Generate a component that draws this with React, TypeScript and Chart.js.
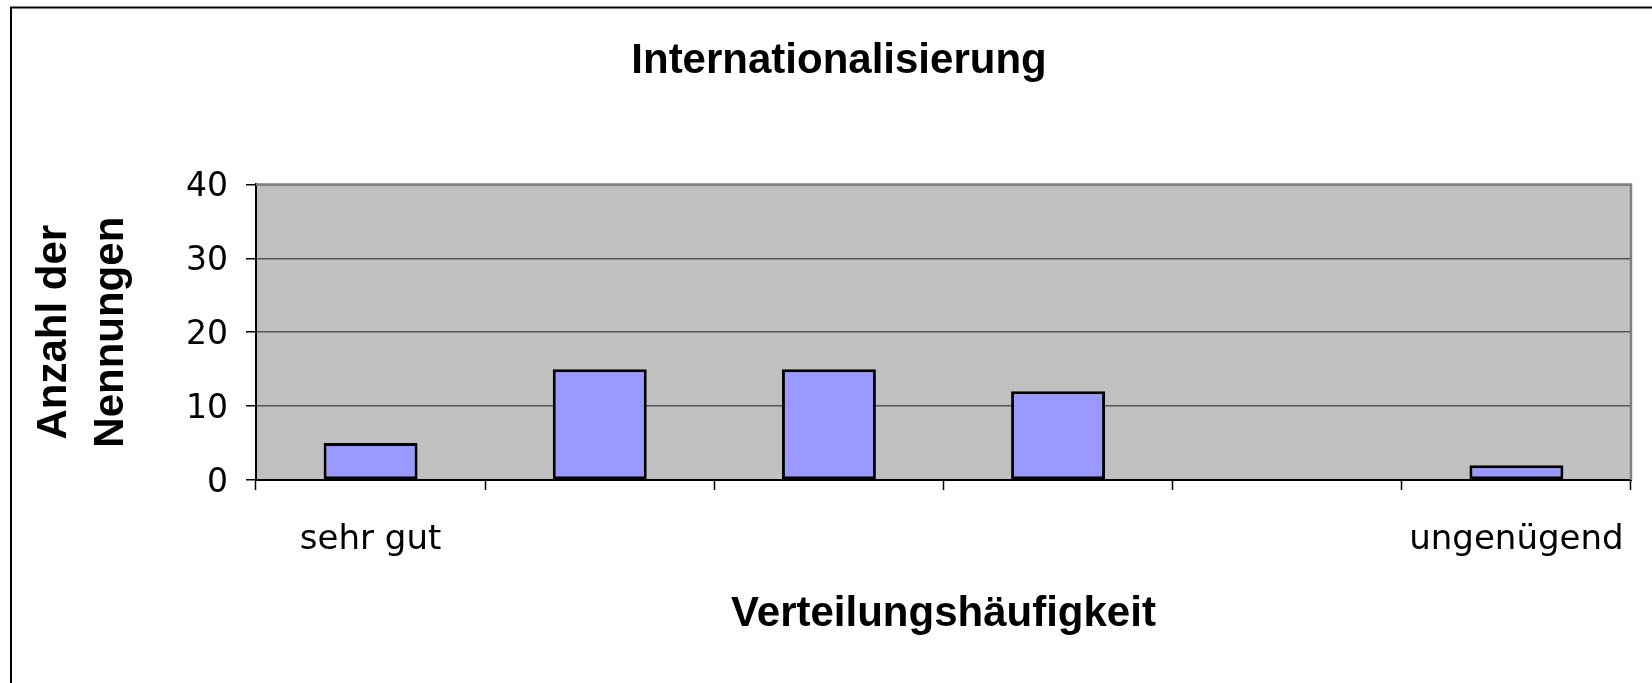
import React, { useEffect, useRef } from "react";
import { Chart, registerables } from "chart.js";

Chart.register(...registerables);

const categories: string[] = ["sehr gut", "", "", "", "", "ungenügend"];
const counts: number[] = [5, 15, 15, 12, 0, 2];
const yMin = 0;
const yMax = 40;
const yStep = 10;

const chartTitle = "Internationalisierung";
const xTitle = "Verteilungshäufigkeit";
const yTitle: string[] = ["Anzahl der", "Nennungen"];

const ARIAL = "'Liberation Sans', Arial, sans-serif";
const TICKFONT = "'DejaVu Sans', 'Liberation Sans', sans-serif";

const framePlugin = {
  id: "frame",
  beforeDraw(chart: any) {
    const { ctx, chartArea } = chart;
    ctx.save();
    ctx.fillStyle = "#c0c0c0";
    ctx.fillRect(chartArea.left, chartArea.top, chartArea.right - chartArea.left, chartArea.bottom - chartArea.top);
    ctx.strokeStyle = "#000000";
    ctx.lineWidth = 2;
    ctx.strokeRect(11, 7.5, 1720, 1000);
    ctx.restore();
  },
  afterDraw(chart: any) {
    const { ctx, chartArea } = chart;
    ctx.save();
    ctx.strokeStyle = "#808080";
    ctx.lineWidth = 2.5;
    ctx.beginPath();
    ctx.moveTo(chartArea.left, chartArea.top);
    ctx.lineTo(chartArea.right, chartArea.top);
    ctx.lineTo(chartArea.right, chartArea.bottom);
    ctx.stroke();
    ctx.restore();
  },
};

export default function App() {
  const canvasRef = useRef<HTMLCanvasElement | null>(null);

  useEffect(() => {
    if (!canvasRef.current) return;
    const chart = new Chart(canvasRef.current, {
      type: "bar",
      data: {
        labels: categories,
        datasets: [
          {
            data: counts,
            backgroundColor: "#9999ff",
            borderColor: "#000000",
            borderWidth: 3,
            borderSkipped: false,
            barPercentage: 0.41,
            categoryPercentage: 1,
          },
        ],
      },
      plugins: [framePlugin],
      options: {
        animation: false,
        responsive: true,
        maintainAspectRatio: false,
        layout: { padding: { left: 26, right: 0, top: 0, bottom: 0 } },
        plugins: {
          legend: { display: false },
          tooltip: { enabled: false },
          title: {
            display: true,
            text: chartTitle,
            color: "#000000",
            font: { family: ARIAL, size: 42, weight: "bold", lineHeight: 1.2 },
            padding: { top: 36, bottom: 98 },
          },
        },
        scales: {
          x: {
            offset: true,
            grid: {
              offset: true,
              drawOnChartArea: false,
              drawTicks: true,
              tickLength: 10,
              tickColor: "#000000",
              tickWidth: 1.5,
            },
            border: { display: true, color: "#000000", width: 2 },
            ticks: {
              autoSkip: false,
              maxRotation: 0,
              minRotation: 0,
              padding: 30,
              color: "#000000",
              font: { family: TICKFONT, size: 34 },
            },
            title: {
              display: true,
              text: xTitle,
              color: "#000000",
              font: { family: ARIAL, size: 42, weight: "bold", lineHeight: 1.2 },
              padding: { top: 0, bottom: 43 },
            },
            afterFit(scale: any) {
              scale.height = 203;
              scale.paddingLeft = 0;
              scale.paddingRight = 0;
            },
          },
          y: {
            min: yMin,
            max: yMax,
            ticks: {
              stepSize: yStep,
              padding: 18,
              labelOffset: 3,
              color: "#000000",
              font: { family: TICKFONT, size: 33 },
            },
            grid: {
              color: "#555555",
              lineWidth: 1.5,
              drawTicks: true,
              tickLength: 10,
              tickColor: "#000000",
              tickWidth: 1.5,
            },
            border: { display: true, color: "#000000", width: 2 },
            title: {
              display: true,
              text: yTitle,
              color: "#000000",
              font: { family: ARIAL, size: 42, weight: "bold", lineHeight: 1.35 },
              padding: { top: 0, bottom: 0 },
            },
            afterFit(scale: any) {
              scale.width = 230;
            },
          },
          y2: {
            position: "right",
            display: true,
            grid: { display: false, drawTicks: false },
            border: { display: false },
            ticks: { display: false },
            afterFit(scale: any) {
              scale.width = 21;
              scale.paddingTop = 0;
              scale.paddingBottom = 0;
            },
          },
        },
      },
    } as any);
    return () => chart.destroy();
  }, []);

  return (
    <div style={{ position: "absolute", left: 0, top: 0, width: 1652, height: 683, background: "#ffffff" }}>
      <canvas ref={canvasRef} />
    </div>
  );
}
